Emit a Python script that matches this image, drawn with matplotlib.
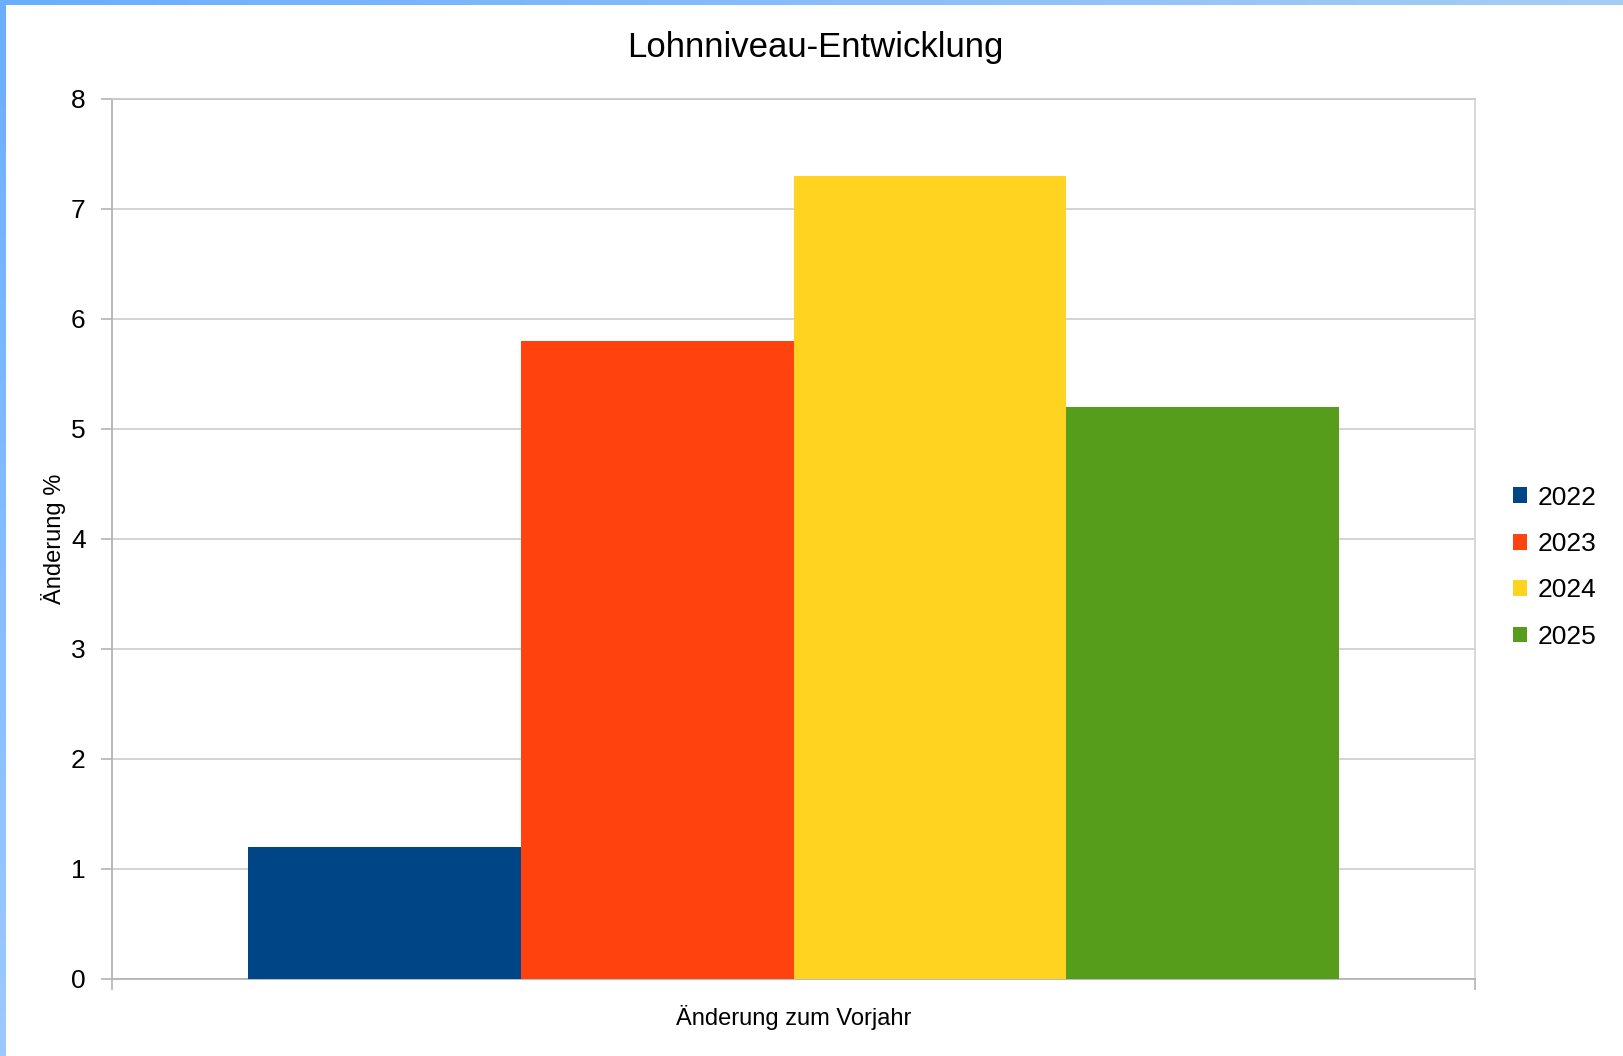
import matplotlib
matplotlib.use('Agg')
import matplotlib.pyplot as plt
from matplotlib.colors import LinearSegmentedColormap
import numpy as np

plt.rcParams['font.family'] = ['Liberation Sans', 'DejaVu Sans']

# data
title = 'Lohnniveau-Entwicklung'
category = 'Änderung zum Vorjahr'
years = ['2022', '2023', '2024', '2025']
values = [1.2, 5.8, 7.3, 5.2]
colors = ['#004586', '#ff420e', '#ffd320', '#579d1c']

W, H = 1623, 1056
fig = plt.figure(figsize=(W / 100, H / 100), dpi=100)

# blue frame strips (top and left) with soft gradient
bg = fig.add_axes([0, 0, 1, 1], zorder=-1)
bg.set_xlim(0, W)
bg.set_ylim(H, 0)
bg.axis('off')
top_grad = np.linspace(0, 1, 256).reshape(1, -1)
left_grad = np.linspace(0, 1, 256).reshape(-1, 1)
cm_top = LinearSegmentedColormap.from_list('t', ['#6aaeff', '#a6cdf4'])
cm_left = LinearSegmentedColormap.from_list('l', ['#6aaeff', '#9ccaff'])
bg.imshow(top_grad, cmap=cm_top, extent=[0, W, 5, 0], aspect='auto')
bg.imshow(left_grad, cmap=cm_left, extent=[0, 6, H, 0], aspect='auto')

ax = fig.add_axes([112 / W, 1 - 979 / H, (1475 - 112) / W, (979 - 99) / H])

n = len(years)
bw = 0.8 / n
for i, (yr, v, c) in enumerate(zip(years, values, colors)):
    x = -0.4 + bw * (i + 0.5)
    ax.bar(x, v, width=bw, color=c, label=yr, zorder=3)

ax.set_xlim(-0.5, 0.5)
ax.set_ylim(0, 8)
ax.set_yticks(range(0, 9))
ax.tick_params(axis='y', length=8, width=1.2, color='#b3b3b3', labelsize=19, pad=11)
ax.set_xticks([-0.5, 0.5])
ax.set_xticklabels(['', ''])
ax.tick_params(axis='x', length=8, width=1.2, color='#b3b3b3')
ax.yaxis.grid(True, color='#d0d0d0', linewidth=1.3, zorder=0)
ax.set_axisbelow(True)
for s in ['left', 'bottom']:
    ax.spines[s].set_color('#b3b3b3')
    ax.spines[s].set_linewidth(1.3)
ax.spines['right'].set_color('#d6d6d6')
ax.spines['right'].set_linewidth(1.3)
ax.spines['top'].set_color('#c8c8c8')
ax.spines['top'].set_linewidth(1.3)

ax.set_ylabel('Änderung %', fontsize=17, va='center')
ax.yaxis.set_label_coords(-(112 - 54) / 1363, 0.5)
ax.set_xlabel(category, fontsize=17, va='center')
ax.xaxis.set_label_coords(0.5, -(1017 - 979) / 880)

fig.text(815 / W, 1 - 47 / H, title, ha='center', va='center', fontsize=25)

leg = ax.legend(loc='center left', bbox_to_anchor=(1.02, 0.468), frameon=False,
                fontsize=19, handlelength=0.55, handleheight=0.55,
                handletextpad=0.4, labelspacing=0.85, borderaxespad=0)

fig.savefig('out.png', dpi=100)
